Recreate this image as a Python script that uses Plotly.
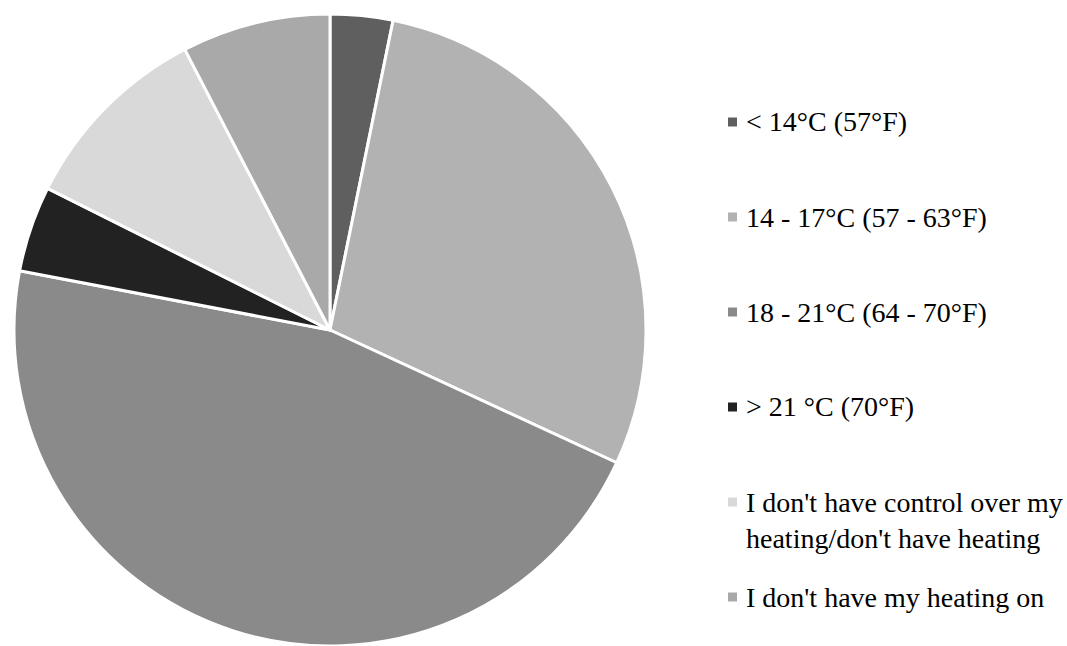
import textwrap
import plotly.graph_objects as go

# Share of respondents by the temperature their heating is set to (%)
labels = [
    "< 14°C (57°F)",
    "14 - 17°C (57 - 63°F)",
    "18 - 21°C (64 - 70°F)",
    "> 21 °C (70°F)",
    "I don't have control over my heating/don't have heating",
    "I don't have my heating on",
]
values = [3.2, 28.7, 46.1, 4.4, 10.0, 7.6]
colors = ["#5f5f5f", "#b2b2b2", "#8a8a8a", "#222222", "#d9d9d9", "#a9a9a9"]

W, H = 1067, 646
FONT = "Liberation Serif, Times New Roman, serif"
FONT_SIZE = 28

fig = go.Figure(
    go.Pie(
        labels=labels,
        values=values,
        sort=False,
        direction="clockwise",
        rotation=0,
        textinfo="none",
        marker=dict(colors=colors, line=dict(color="white", width=3)),
        domain=dict(x=[14 / W, 646 / W], y=[0, (H - 14) / H]),
        showlegend=False,
    )
)

# Legend drawn on the right: a small colour square and a wrapped label per entry
first_y = 122      # px from top, centre of the first entry
step = 95          # px between entries
line_h = 37        # px between wrapped lines
sq = 9             # square size, px
sq_x = 728
text_x = 744

shapes = []
annotations = []
for i, (lab, col) in enumerate(zip(labels, colors)):
    yc = first_y + i * step
    lines = textwrap.wrap(lab, width=28)
    shapes.append(dict(
        type="rect", xref="paper", yref="paper",
        x0=sq_x / W, x1=(sq_x + sq) / W,
        y0=1 - (yc + sq / 2) / H, y1=1 - (yc - sq / 2) / H,
        fillcolor=col, line=dict(width=0),
    ))
    block_c = yc + (len(lines) - 1) * line_h / 2
    annotations.append(dict(
        xref="paper", yref="paper",
        x=text_x / W, y=1 - block_c / H,
        xanchor="left", yanchor="middle", align="left",
        text="<br>".join(lines), showarrow=False,
        font=dict(family=FONT, size=FONT_SIZE, color="#000000"),
    ))

fig.update_layout(
    width=W, height=H,
    margin=dict(l=0, r=0, t=0, b=0),
    paper_bgcolor="white", plot_bgcolor="white",
    shapes=shapes, annotations=annotations,
    font=dict(family=FONT),
)

fig.write_html("out.html")
